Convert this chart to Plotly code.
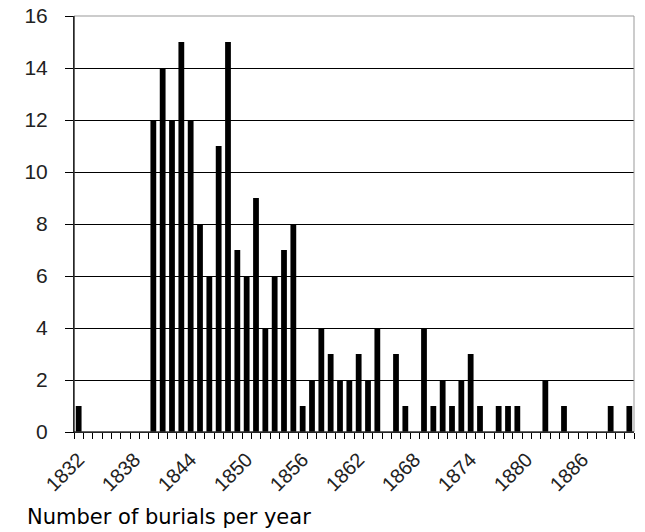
import plotly.graph_objects as go

years = list(range(1832, 1892))
burials = [1, 0, 0, 0, 0, 0, 0, 0,
           12, 14, 12, 15, 12, 8, 6, 11, 15, 7, 6, 9,
           4, 6, 7, 8, 1, 2, 4, 3, 2, 2, 3, 2, 4, 0, 3, 1, 0,
           4, 1, 2, 1, 2, 3, 1, 0, 1, 1, 1, 0, 0, 2, 0, 1,
           0, 0, 0, 0, 1, 0, 1]
label_years = list(range(1832, 1892, 6))
y_ticks = list(range(0, 17, 2))

fig = go.Figure(go.Bar(x=years, y=burials, marker=dict(color="black", line=dict(width=0))))

PW, PH = 560, 416
fig.update_layout(
    width=645, height=532,
    margin=dict(l=74, r=11, t=16, b=100, autoexpand=False),
    paper_bgcolor="white", plot_bgcolor="white",
    bargap=0.38,
    showlegend=False,
    font=dict(family="Liberation Sans, Arial", size=20, color="black"),
    xaxis=dict(
        range=[1831.5, 1891.5],
        tickmode="array", tickvals=label_years, ticktext=[str(v) for v in label_years],
        tickangle=-45, ticks="", showgrid=False,
        showline=True, linecolor="black", linewidth=1,
        zeroline=False,
        ticklabelstandoff=7,
        tickfont=dict(size=20, color="#222"),
        minor=dict(tickmode="linear", tick0=1831.5, dtick=1, ticks="outside",
                   ticklen=6, tickcolor="black", tickwidth=1, showgrid=False),
    ),
    yaxis=dict(
        range=[0, 16], tickmode="array", tickvals=y_ticks,
        showgrid=True, gridcolor="black", gridwidth=1,
        showline=True, linecolor="black", linewidth=1,
        ticks="outside", ticklen=8, tickcolor="black",
        zeroline=False,
        ticklabelstandoff=13,
        ticklabeloverflow="allow",
        tickfont=dict(size=21, color="#222"),
    ),
    shapes=[dict(type="rect", xref="paper", yref="paper", x0=0, x1=1, y0=0, y1=1,
                 line=dict(color="#999", width=1), layer="above"),
            dict(type="line", xref="paper", yref="paper", x0=0, x1=0, y0=0, y1=1,
                 line=dict(color="black", width=1), layer="above"),
            dict(type="line", xref="paper", yref="paper", x0=0, x1=1, y0=0, y1=0,
                 line=dict(color="black", width=1), layer="above")],
    annotations=[dict(text="Number of burials per year", xref="paper", yref="paper",
                      x=-49 / PW, y=-85 / PH, xanchor="left", yanchor="middle",
                      showarrow=False,
                      font=dict(family="DejaVu Sans", size=21, color="black"))],
)

fig.write_html("out.html",
               config={"displayModeBar": False},
               post_script="document.body.style.margin='0';document.body.style.overflow='hidden';")
